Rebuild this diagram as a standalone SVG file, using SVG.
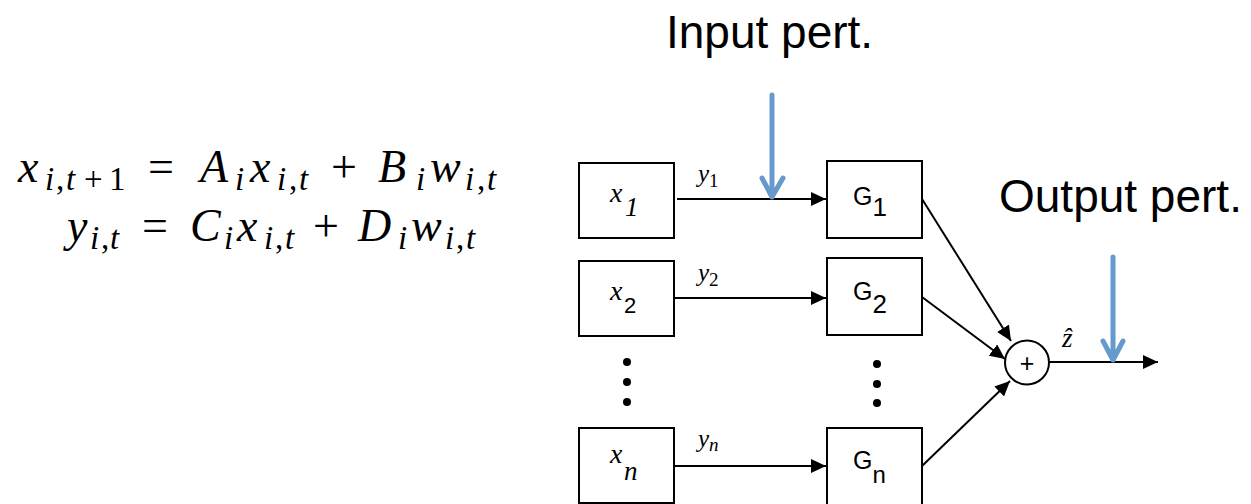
<svg xmlns="http://www.w3.org/2000/svg" width="1251" height="504" viewBox="0 0 1251 504">
<style>
.box{fill:#fff;stroke:#000;stroke-width:2}
.ln{stroke:#000;stroke-width:2;fill:none}
.pert{stroke:#6699cc;stroke-width:5;fill:none;stroke-linecap:round;stroke-linejoin:round}
.serif{font-family:"Liberation Serif","DejaVu Serif",serif}
.sans{font-family:"Liberation Sans",Arial,sans-serif}
.it{font-style:italic}
.m{font-size:46px}
.s{font-size:33px}
</style>
<defs>
<marker id="ah" markerUnits="userSpaceOnUse" markerWidth="16" markerHeight="14" refX="15" refY="7" orient="auto">
<path d="M0,0 L15,7 L0,14 Z" fill="#000"/>
</marker>
</defs>
<rect width="1251" height="504" fill="#fff"/>

<g id="equations" class="serif" fill="#000">
<text class="m it" x="18" y="182">x</text>
<text class="s it" x="45" y="190">i</text><text class="s" x="56" y="190">,</text><text class="s it" x="66" y="190">t</text><text class="s" x="84" y="190">+</text><text class="s" x="109" y="190">1</text>
<text class="m" x="148" y="182">=</text>
<text class="m it" x="200" y="182">A</text><text class="s it" x="235" y="190">i</text>
<text class="m it" x="250" y="182">x</text>
<text class="s it" x="277" y="190">i</text><text class="s" x="289" y="190">,</text><text class="s it" x="299" y="190">t</text>
<text class="m" x="331" y="182">+</text>
<text class="m it" x="378" y="182">B</text><text class="s it" x="416" y="190">i</text>
<text class="m it" x="430" y="182">w</text>
<text class="s it" x="465" y="190">i</text><text class="s" x="477" y="190">,</text><text class="s it" x="487" y="190">t</text>

<text class="m it" x="67" y="241">y</text>
<text class="s it" x="90" y="249">i</text><text class="s" x="101" y="249">,</text><text class="s it" x="110" y="249">t</text>
<text class="m" x="142" y="241">=</text>
<text class="m it" x="190" y="241">C</text><text class="s it" x="224" y="249">i</text>
<text class="m it" x="237" y="241">x</text>
<text class="s it" x="264" y="249">i</text><text class="s" x="275" y="249">,</text><text class="s it" x="285" y="249">t</text>
<text class="m" x="313" y="241">+</text>
<text class="m it" x="358" y="241">D</text><text class="s it" x="398" y="249">i</text>
<text class="m it" x="411" y="241">w</text>
<text class="s it" x="445" y="249">i</text><text class="s" x="456" y="249">,</text><text class="s it" x="466" y="249">t</text>
</g>

<g id="label-input" class="sans"><text x="666" y="48" font-size="46">Input pert.</text></g>
<g id="label-output" class="sans"><text x="999" y="212" font-size="46">Output pert.</text></g>

<g id="node-x1">
<rect class="box" x="579" y="163" width="95" height="75"/>
<text class="serif it" x="610" y="202" font-size="28">x<tspan font-size="27" x="625" y="216">1</tspan></text>
</g>
<g id="node-x2">
<rect class="box" x="579" y="261" width="95" height="75"/>
<text class="serif it" x="610" y="300" font-size="28">x</text>
<text class="sans" x="624" y="313" font-size="22">2</text>
</g>
<g id="node-xn">
<rect class="box" x="579" y="428" width="95" height="75"/>
<text class="serif it" x="610" y="463" font-size="28">x<tspan font-size="27" x="624" y="480">n</tspan></text>
</g>

<g id="node-G1" class="sans">
<rect class="box" x="827" y="161" width="95" height="77"/>
<text x="853" y="205" font-size="25">G<tspan font-size="26" y="216">1</tspan></text>
</g>
<g id="node-G2" class="sans">
<rect class="box" x="827" y="258" width="95" height="77"/>
<text x="853" y="300" font-size="25">G<tspan font-size="26" y="313">2</tspan></text>
</g>
<g id="node-Gn" class="sans">
<rect class="box" x="827" y="428" width="95" height="80"/>
<text x="853" y="469" font-size="25">G<tspan font-size="24" y="483">n</tspan></text>
</g>

<g id="dots" fill="#000">
<circle cx="627" cy="362" r="4"/><circle cx="627" cy="382" r="4"/><circle cx="627" cy="402" r="4"/>
<circle cx="877" cy="364" r="4"/><circle cx="877" cy="384" r="4"/><circle cx="877" cy="403" r="4"/>
</g>

<g id="node-sum">
<circle cx="1027" cy="362.5" r="22" fill="#fff" stroke="#000" stroke-width="2"/>
<text class="sans" x="1027" y="372" font-size="25" text-anchor="middle">+</text>
</g>

<g id="connectors">
<line class="ln" x1="677" y1="199" x2="826" y2="199" marker-end="url(#ah)"/>
<line class="ln" x1="674" y1="298" x2="826" y2="298" marker-end="url(#ah)"/>
<line class="ln" x1="674" y1="466" x2="826" y2="466" marker-end="url(#ah)"/>
<line class="ln" x1="922" y1="199" x2="1011" y2="341" marker-end="url(#ah)"/>
<line class="ln" x1="922" y1="297" x2="1005" y2="359" marker-end="url(#ah)"/>
<line class="ln" x1="922" y1="466" x2="1010" y2="381" marker-end="url(#ah)"/>
<line class="ln" x1="1049" y1="362" x2="1158" y2="362" marker-end="url(#ah)"/>
<path class="pert" d="M772,95 L772,197 M762,178 L772,197 L783,178"/>
<path class="pert" d="M1113,257 L1113,360 M1103,341 L1113,360 L1123,341"/>
<text class="serif it" x="698" y="182" font-size="25">y<tspan font-size="19" font-style="normal" y="187">1</tspan></text>
<text class="serif it" x="698" y="281" font-size="25">y<tspan font-size="19" font-style="normal" y="286">2</tspan></text>
<text class="serif it" x="698" y="447" font-size="25">y<tspan font-size="19" y="451">n</tspan></text>
<text class="serif it" x="1062" y="347" font-size="27">ẑ</text>
</g>
</svg>
